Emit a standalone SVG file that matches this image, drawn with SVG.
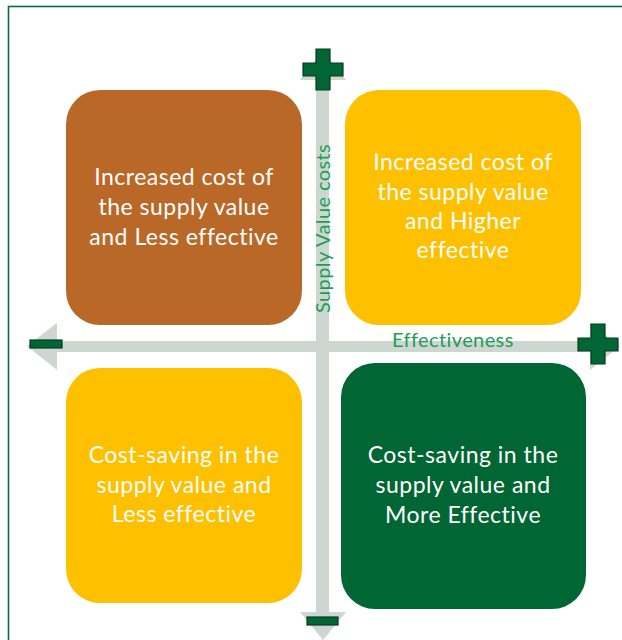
<svg xmlns="http://www.w3.org/2000/svg" width="622" height="640" viewBox="0 0 622 640">
<style>
.box text{font-family:Lato,"Liberation Sans",sans-serif;font-size:23px;letter-spacing:0.5px;fill:#ffffff;text-anchor:middle}
.axis{fill:#CDD6D1}
.sign{fill:#006633;stroke:#0B3A22;stroke-width:1.2}
.lbl{font-family:Lato,"Liberation Sans",sans-serif;font-size:20px;letter-spacing:0.4px;fill:#1E9E55}
</style>
<rect x="0" y="0" width="622" height="640" fill="#ffffff"/>
<rect x="8.5" y="6.5" width="630" height="650" fill="none" stroke="#0E6B3A" stroke-width="1.6"/>
<g id="connectors">
  <rect class="axis" x="316" y="78" width="13" height="536"/>
  <polygon class="axis" points="300,80 346,80 323,50"/>
  <polygon class="axis" points="300,612 346,612 323,640"/>
  <rect class="axis" x="55" y="341" width="537" height="11"/>
  <polygon class="axis" points="57,323 57,370 27,346"/>
  <polygon class="axis" points="590,323 590,370 620,346"/>
</g>
<g id="box-tl" class="box">
  <rect x="66" y="90" width="236" height="235" rx="34" fill="#BA6828"/>
  <text x="184" y="185">Increased cost of</text>
  <text x="184" y="215">the supply value</text>
  <text x="184" y="245">and Less effective</text>
</g>
<g id="box-tr" class="box">
  <rect x="345" y="90" width="236" height="235" rx="34" fill="#FFC000"/>
  <text x="463" y="170">Increased cost of</text>
  <text x="463" y="200">the supply value</text>
  <text x="463" y="229">and Higher</text>
  <text x="463" y="258">effective</text>
</g>
<g id="box-bl" class="box">
  <rect x="66" y="368" width="236" height="235" rx="34" fill="#FFC000"/>
  <text x="184" y="463">Cost-saving in the</text>
  <text x="184" y="493">supply value and</text>
  <text x="184" y="522">Less effective</text>
</g>
<g id="box-br" class="box">
  <rect x="341" y="363" width="245" height="246" rx="34" fill="#006633"/>
  <text x="463" y="463">Cost-saving in the</text>
  <text x="463" y="493">supply value and</text>
  <text x="463" y="523">More Effective</text>
</g>
<g id="label-y">
  <text class="lbl" transform="translate(330,313) rotate(-90)">Supply Value costs</text>
</g>
<g id="label-x">
  <text class="lbl" x="392" y="347">Effectiveness</text>
</g>
<g id="plus-top">
  <path class="sign" d="M316,49 h14 v14 h13 v13 h-13 v14 h-14 v-14 h-13 v-13 h13 z"/>
</g>
<g id="plus-right">
  <path class="sign" d="M591,324 h14 v14 h13 v13 h-13 v13 h-14 v-13 h-13 v-13 h13 z"/>
</g>
<g id="minus-left">
  <rect class="sign" x="30" y="340" width="32" height="8"/>
</g>
<g id="minus-bottom">
  <rect class="sign" x="307" y="617" width="31" height="8"/>
</g>
</svg>
